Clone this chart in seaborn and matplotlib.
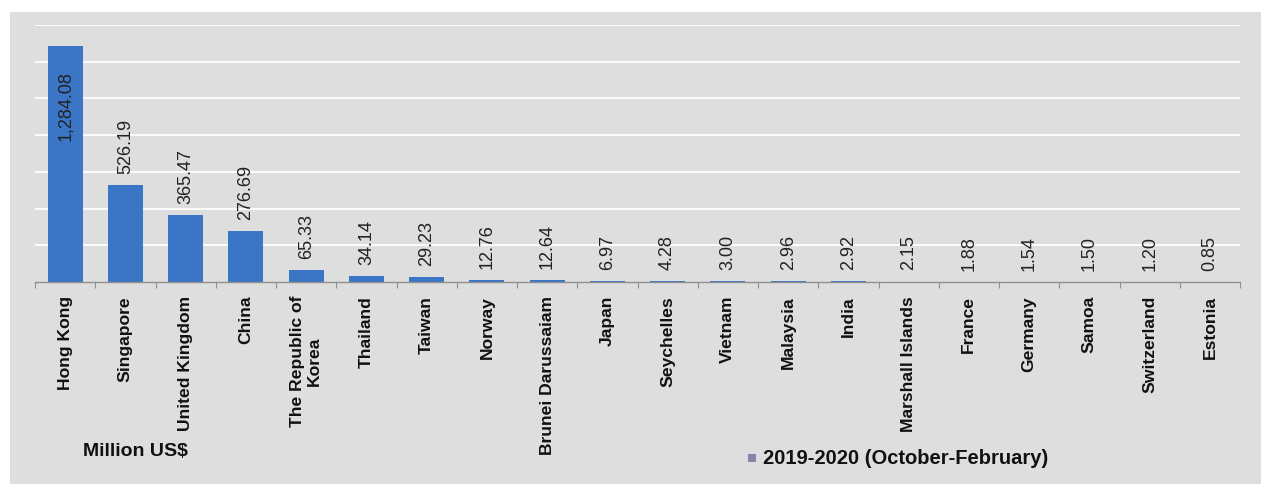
import matplotlib
matplotlib.use("Agg")
import matplotlib.pyplot as plt
from matplotlib.patches import Rectangle
import seaborn as sns
import pandas as pd

countries = ["Hong Kong", "Singapore", "United Kingdom", "China", "The Republic of\nKorea",
             "Thailand", "Taiwan", "Norway", "Brunei Darussaiam", "Japan", "Seychelles",
             "Vietnam", "Malaysia", "India", "Marshall Islands", "France", "Germany",
             "Samoa", "Switzerland", "Estonia"]
values = [1284.08, 526.19, 365.47, 276.69, 65.33, 34.14, 29.23, 12.76, 12.64, 6.97,
          4.28, 3.00, 2.96, 2.92, 2.15, 1.88, 1.54, 1.50, 1.20, 0.85]
labels = ["1,284.08", "526.19", "365.47", "276.69", "65.33", "34.14", "29.23", "12.76",
          "12.64", "6.97", "4.28", "3.00", "2.96", "2.92", "2.15", "1.88", "1.54",
          "1.50", "1.20", "0.85"]
series_name = "2019-2020 (October-February)"
unit_label = "Million US$"

df = pd.DataFrame({"country": countries, "value": values})

sns.set_theme(style="white")
plt.rcParams["font.family"] = ["Liberation Sans", "DejaVu Sans"]

W, H = 1261, 484
bg = "#dedede"
fig = plt.figure(figsize=(W / 100, H / 100), dpi=100)
fig.patch.set_facecolor(bg)
# white strips on top and left
fig.patches.append(Rectangle((0, 1 - 12 / H), 1, 12 / H, transform=fig.transFigure,
                             facecolor="white", edgecolor="none", zorder=-10))
fig.patches.append(Rectangle((0, 0), 10 / W, 1, transform=fig.transFigure,
                             facecolor="white", edgecolor="none", zorder=-10))

ax = fig.add_axes([35 / W, 202 / H, (1240 - 35) / W, (282 - 25) / H])
ax.set_facecolor(bg)
bar_color = "#3b76c6"
sns.barplot(data=df, x="country", y="value", color=bar_color, width=0.58,
            saturation=1, linewidth=0, ax=ax, zorder=3)

ax.set_ylim(0, 1400)
ax.set_xlim(-0.5, len(countries) - 0.5)
ax.set_yticks(range(200, 1401, 200))
ax.yaxis.grid(True, color="white", linewidth=1.3, zorder=1)
ax.set_axisbelow(True)
ax.tick_params(axis="y", left=False, labelleft=False)
for s in ["top", "right", "left"]:
    ax.spines[s].set_visible(False)
ax.spines["bottom"].set_color("#909090")
ax.spines["bottom"].set_linewidth(1)
ax.spines["bottom"].set_zorder(4)

# x tick labels
ax.set_xticks(range(len(countries)))
ax.set_xticklabels(countries, rotation=90, fontsize=12.6, fontweight="bold",
                   color="#111111", multialignment="center")
ax.tick_params(axis="x", bottom=False, pad=4)
ax.set_xticks([i + 0.5 for i in range(-1, len(countries))], minor=True)
ax.tick_params(axis="x", which="minor", bottom=True, length=4, color="#909090", width=0.8)
ax.set_xlabel("")
ax.set_ylabel("")

# value labels
for i, (v, t) in enumerate(zip(values, labels)):
    if i == 0:
        ax.annotate(t, (i, v), xytext=(0, -18), textcoords="offset points",
                    rotation=90, ha="center", va="top", fontsize=13, color="#222222")
    else:
        ax.annotate(t, (i, v), xytext=(0, 8), textcoords="offset points",
                    rotation=90, ha="center", va="bottom", fontsize=13, color="#222222")

fig.text(135 / W, 1 - 451 / H, unit_label, ha="center", va="center",
         fontsize=14, fontweight="bold", color="#111111")

fig.patches.append(Rectangle((748 / W, 1 - 462 / H), 8 / W, 8 / H, transform=fig.transFigure,
                             facecolor="#8585a5", edgecolor="none", zorder=5))
fig.text(763 / W, 1 - 458 / H, series_name, ha="left", va="center",
         fontsize=14.5, fontweight="bold", color="#111111")

fig.savefig("out.png", dpi=100, facecolor=fig.get_facecolor())
